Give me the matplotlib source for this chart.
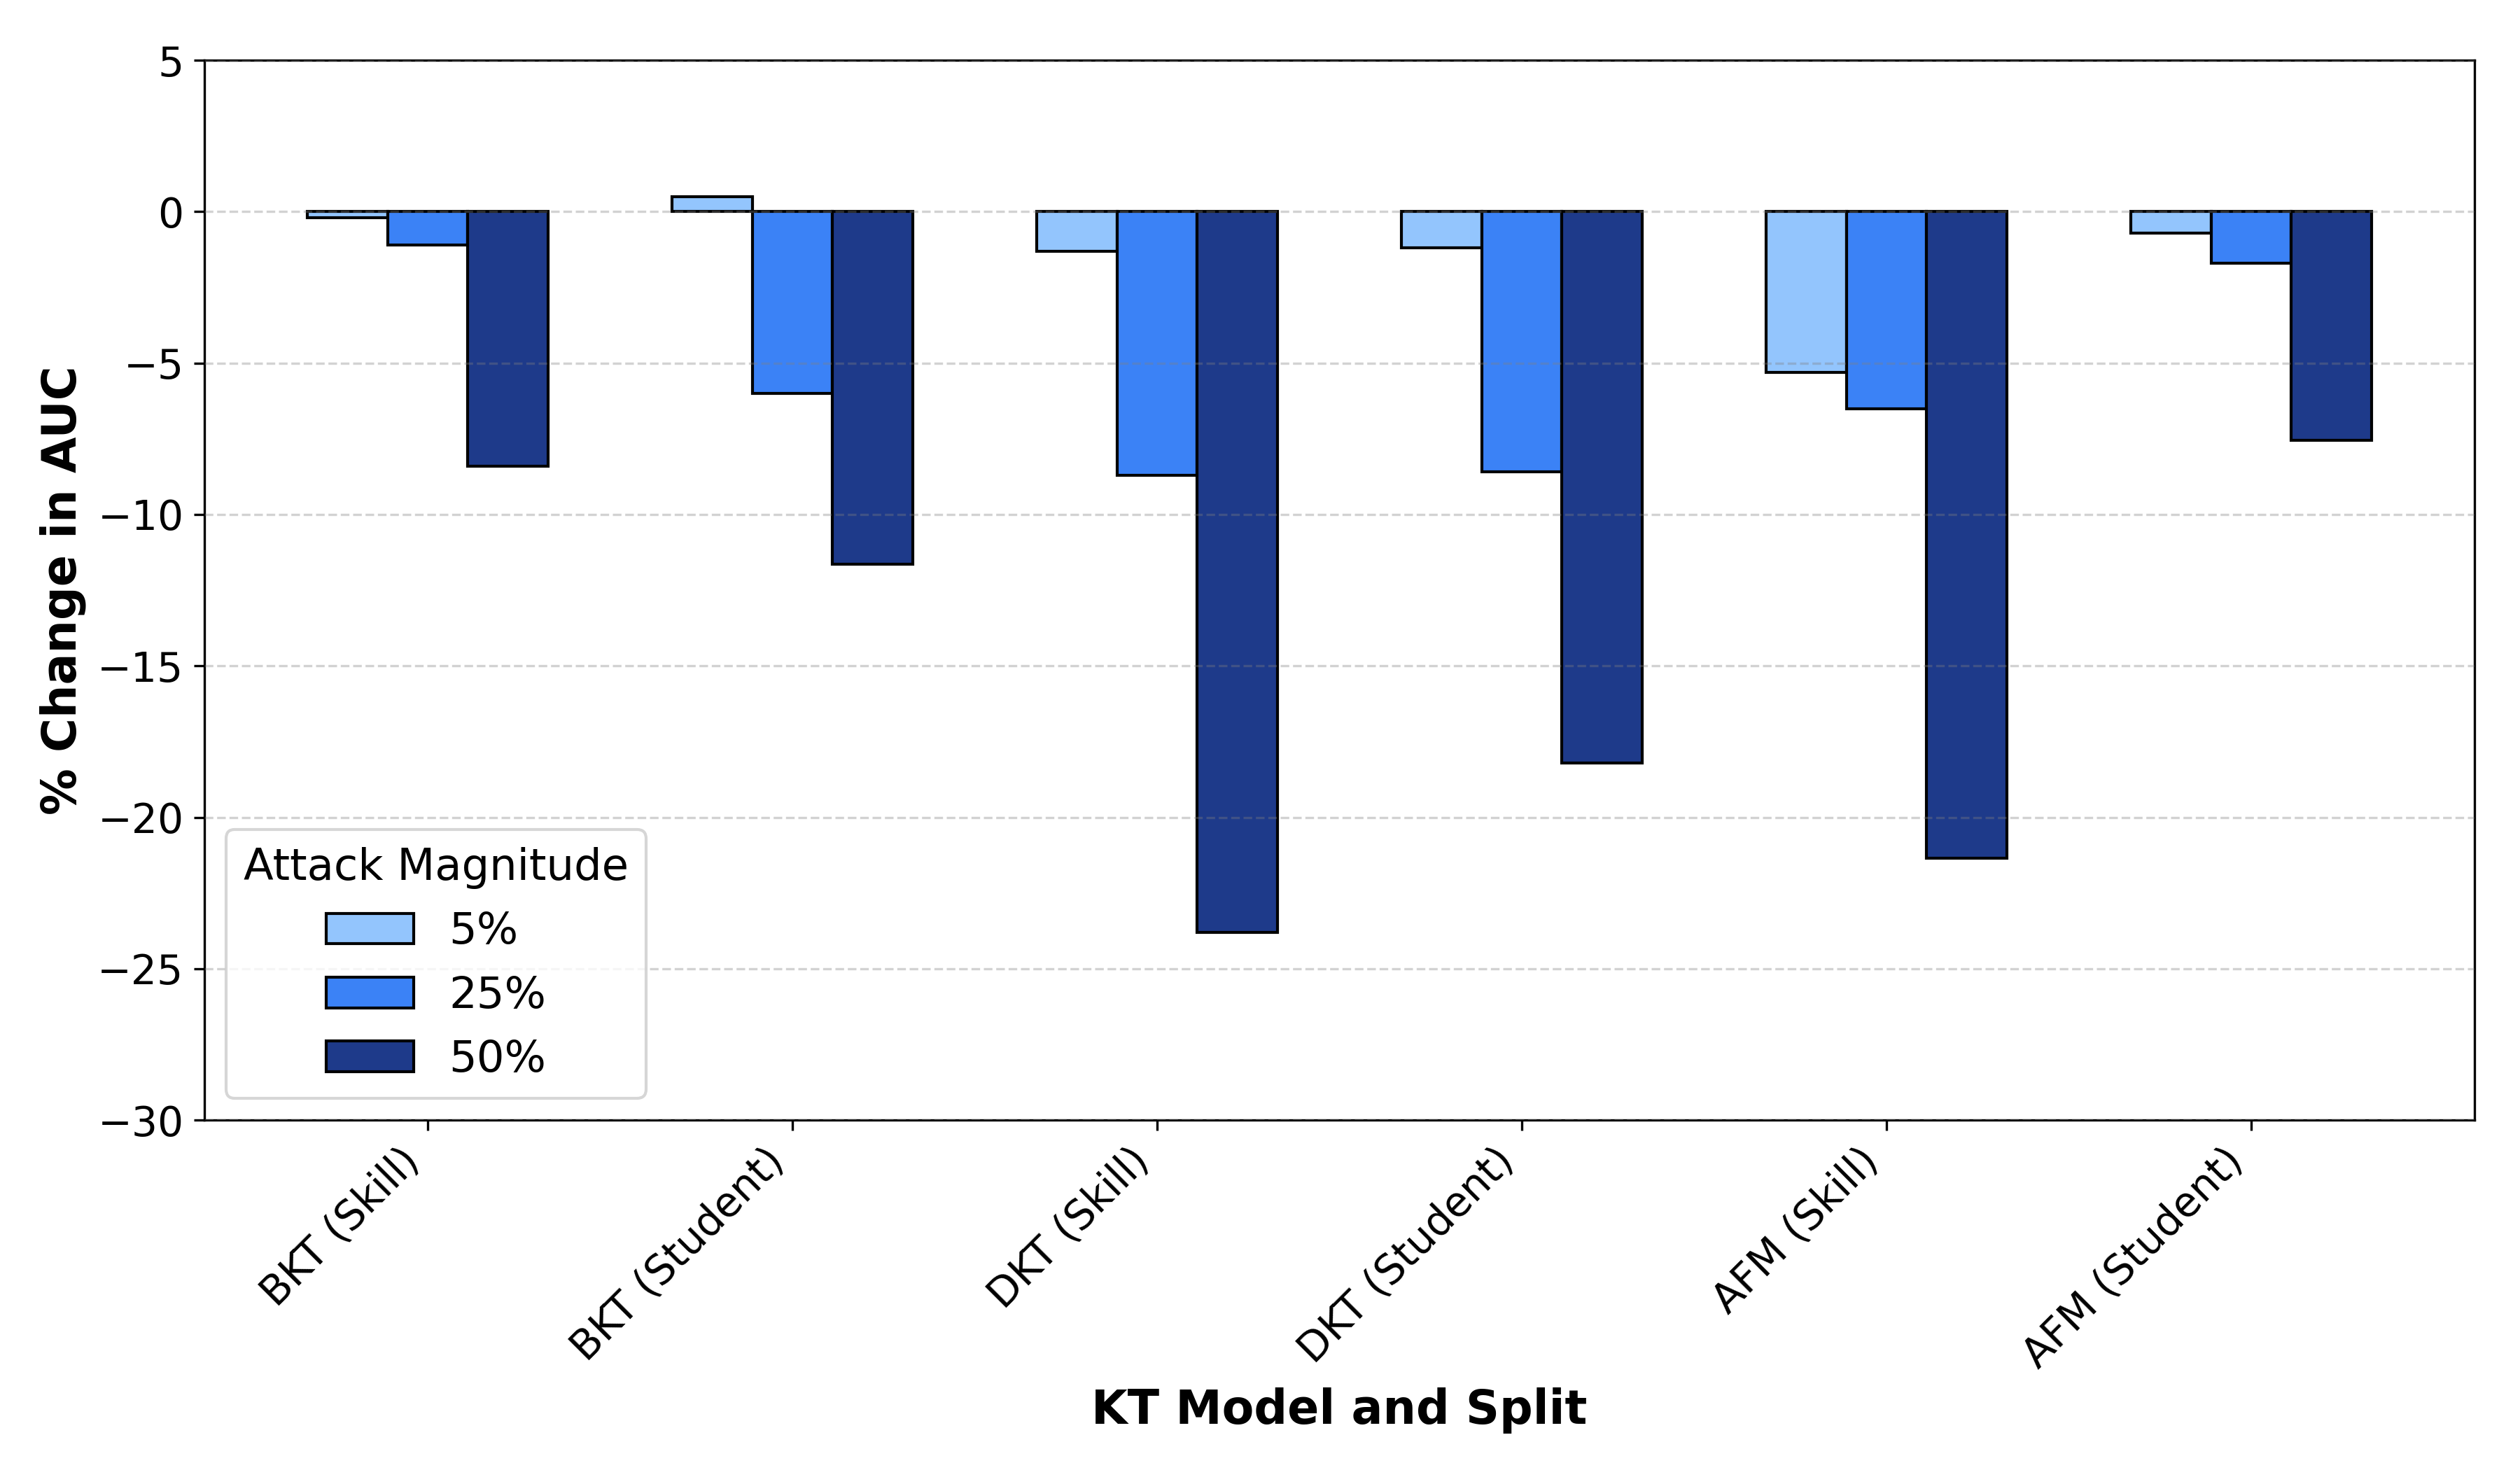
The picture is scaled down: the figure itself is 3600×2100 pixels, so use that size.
import matplotlib.pyplot as plt
import numpy as np

# % change in AUC per model/split and attack magnitude
models = ['BKT (Skill)', 'BKT (Student)', 'DKT (Skill)', 'DKT (Student)', 'AFM (Skill)', 'AFM (Student)']
magnitudes = ['5%', '25%', '50%']
change_5 = [-0.2, 0.5, -1.3, -1.2, -5.3, -0.7]
change_25 = [-1.1, -6.0, -8.7, -8.6, -6.5, -1.7]
change_50 = [-8.4, -11.65, -23.8, -18.2, -21.35, -7.55]
colors = ['#93C5FD', '#3B82F6', '#1E3A8A']

series = [change_5, change_25, change_50]

fig, ax = plt.subplots(figsize=(12, 7), dpi=300)
x = np.arange(len(models))
w = 0.22

for i, vals in enumerate(series):
	ax.bar(x + (i - 1) * w, vals, w, color=colors[i], edgecolor='black', linewidth=1.0,
		label=magnitudes[i])

ax.set_ylim(-30, 5)
ax.set_xticks(x)
ax.set_xticklabels(models, rotation=45, ha='right', fontsize=14)
ax.tick_params(axis='y', labelsize=14)
ax.set_xlabel('KT Model and Split', fontsize=16, fontweight='bold')
ax.set_ylabel('% Change in AUC', fontsize=16, fontweight='bold')
ax.yaxis.grid(True, linestyle='--', color='gray', alpha=0.35)
ax.set_axisbelow(False)

ax.legend(title='Attack Magnitude', fontsize=15, title_fontsize=15, loc='lower left')

fig.subplots_adjust(left=0.081, right=0.982, top=0.959, bottom=0.238)
fig.savefig('out.png')
